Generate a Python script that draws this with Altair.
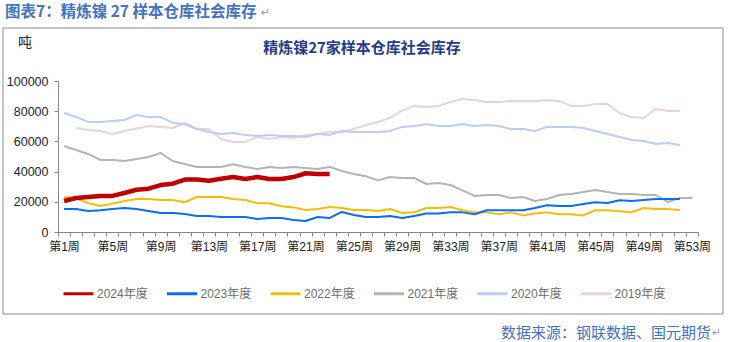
import altair as alt
import pandas as pd

years = ["2024年度", "2023年度", "2022年度", "2021年度", "2020年度", "2019年度"]
colors = ["#C00000", "#0A6EF0", "#F2BE0A", "#B4B4B4", "#BCCDF5", "#E9D3D6"]

# weekly values, listed from the first week each series has
start_week = {"2024年度": 1, "2023年度": 1, "2022年度": 1, "2021年度": 1, "2020年度": 1, "2019年度": 2}

y2024 = [20500, 22500, 23200, 23900, 23900, 25800, 28000, 28700, 31100, 32000, 34700, 34700,
         34000, 35300, 36400, 35100, 36400, 35100, 35100, 36400, 38900, 38400, 38400]
y2023 = [15200, 15200, 13900, 14400, 15200, 15900, 15200, 13900, 12600, 12600, 11900, 10600,
         10600, 9900, 9900, 9900, 8600, 9300, 9300, 8000, 7300, 9900, 9300, 13300, 11300, 9900,
         9900, 10600, 9300, 10600, 12300, 12300, 13000, 13000, 11700, 14400, 14400, 14400, 14400,
         15900, 17700, 17200, 17200, 18600, 19700, 19200, 21000, 20500, 21200, 21900, 21900, 21900]
y2022 = [23200, 22300, 19200, 17200, 18800, 20500, 21900, 21900, 21200, 21200, 19700, 23200,
         23200, 23200, 21900, 21200, 19200, 19000, 17000, 16300, 14600, 15200, 16600, 15900,
         14600, 14600, 13900, 15200, 12600, 13000, 15900, 15900, 16600, 14400, 13000, 13000,
         11700, 13000, 11000, 12200, 13000, 11700, 11700, 11000, 14400, 14400, 13700, 13000,
         15900, 15200, 15200, 14600]
y2021 = [57000, 54300, 51700, 47700, 47700, 47000, 48400, 49700, 52300, 47000, 45000, 43100,
         43100, 43100, 44800, 43100, 41700, 43100, 42400, 43100, 42400, 41700, 43100, 40400,
         38400, 36900, 34200, 36400, 35800, 35800, 31800, 32500, 31100, 27600, 23900, 24500,
         24500, 22500, 23200, 20500, 21900, 24500, 25200, 26500, 27800, 26500, 25200, 25200,
         24500, 24500, 19900, 22500, 22500]
y2020 = [78800, 76200, 72900, 72900, 73500, 74200, 77500, 76200, 76200, 72200, 71500, 68200,
         66200, 64900, 65600, 64300, 63600, 64300, 63600, 63600, 62900, 64900, 64300, 66900,
         66200, 66200, 66200, 66900, 69600, 70200, 71500, 70200, 70200, 71500, 70200, 70900,
         70200, 68200, 68200, 66900, 69600, 69600, 69600, 68900, 66900, 64900, 62900, 60900,
         60300, 58300, 59000, 57600]
y2019 = [68900, 67600, 66900, 64900, 66900, 68500, 70200, 69600, 68900, 72200, 68200, 68200,
         61600, 59600, 59600, 62900, 61600, 62900, 62300, 64300, 64900, 66200, 66200, 68200,
         70900, 72900, 75600, 80400, 83500, 82800, 83500, 86100, 88100, 87400, 86100, 86100,
         86800, 86800, 86800, 87200, 86800, 83500, 83500, 84800, 84800, 78800, 76200, 75500,
         81500, 80200, 80200]

x_tick_bounds = [k + 0.5 for k in range(0, 54)]
y_ticks = [0, 20000, 40000, 60000, 80000, 100000]

series = {"2024年度": y2024, "2023年度": y2023, "2022年度": y2022,
          "2021年度": y2021, "2020年度": y2020, "2019年度": y2019}

rows = []
for yr in reversed(years):
    for i, v in enumerate(series[yr]):
        rows.append({"year": yr, "week": start_week[yr] + i, "value": v})
df = pd.DataFrame(rows)
df_cur = df[df["year"] == "2024年度"]
df_old = df[df["year"] != "2024年度"]

LAT = "Liberation Sans, Noto Sans CJK SC, DejaVu Sans"
CJK = "Noto Sans CJK SC, DejaVu Sans"

x_enc = alt.X("week:Q",
              scale=alt.Scale(domain=[0.5, 53.5], nice=False, zero=False),
              axis=alt.Axis(values=x_tick_bounds, title=None, grid=False,
                            labelExpr="((datum.value - 0.5) % 4 == 0) ? '第' + (datum.value + 0.5) + '周' : ''",
                            labelOffset=6, labelOverlap=False, labelBound=False, labelFlush=False,
                            labelFont=LAT, labelFontSize=12, labelColor="#222222", labelPadding=5,
                            tickSize=4, tickColor="#868686", domainColor="#868686"))
y_enc = alt.Y("value:Q",
              scale=alt.Scale(domain=[0, 100000], nice=False),
              axis=alt.Axis(values=y_ticks, format="d", title=None, grid=False,
                            labelFont=LAT, labelFontSize=12.5, labelColor="#222222", labelPadding=6,
                            tickSize=4, tickColor="#868686", domainColor="#868686"))
c_enc = alt.Color("year:N", scale=alt.Scale(domain=years, range=colors), title=None,
                  legend=alt.Legend(orient="none", legendX=4, legendY=196, direction="horizontal",
                                    symbolType="stroke", symbolSize=900, symbolStrokeWidth=3,
                                    labelOffset=2, labelFont=LAT, labelFontSize=12,
                                    labelColor="#6E6E6E", columnPadding=12.5))

old_lines = alt.Chart(df_old).mark_line(strokeJoin="round", strokeWidth=2).encode(
    x=x_enc, y=y_enc, color=c_enc, detail="year:N")
cur_line = alt.Chart(df_cur).mark_line(strokeJoin="round", strokeWidth=4.5).encode(
    x=x_enc, y=y_enc, color=c_enc)

one = pd.DataFrame({"a": [0]})

frame = alt.Chart(one).mark_rect(fillOpacity=0, stroke="#8C8C8C", strokeWidth=1).encode(
    x=alt.value(-55), x2=alt.value(665), y=alt.value(-53), y2=alt.value(233))


def txt(s, x, y, size, color, font, weight="normal", align="left"):
    return alt.Chart(pd.DataFrame({"t": [s]})).mark_text(
        align=align, baseline="middle", fontSize=size, font=font, fontWeight=weight, color=color
    ).encode(text="t:N", x=alt.value(x), y=alt.value(y))


page_title = txt("图表7：精炼镍 27 样本仓库社会库存", -53, -69, 15.5, "#4472C4", CJK, "bold")
page_ret = txt("↵", 203, -68, 11, "#A0A0A0", "DejaVu Sans")
chart_title = txt("精炼镍27家样本仓库社会库存", 304, -33, 15, "#1F3C88", CJK, "bold", "center")
unit = txt("吨", -40, -38, 14, "#222222", CJK)
source = txt("数据来源：钢联数据、国元期货", 653, 252, 15, "#4472C4", CJK, align="right")
source_ret = txt("↵", 654, 252, 11, "#A0A0A0", "DejaVu Sans")

chart = alt.layer(frame, old_lines, cur_line, page_title, page_ret, chart_title, unit, source,
                  source_ret).properties(
    width=640, height=151,
    padding={"left": 58, "top": 81, "right": 31, "bottom": 110},
    autosize=alt.AutoSizeParams(type="none"),
    background="white",
).configure_view(stroke=None)

chart.save("out.html", embed_options={"renderer": "svg", "actions": False})
